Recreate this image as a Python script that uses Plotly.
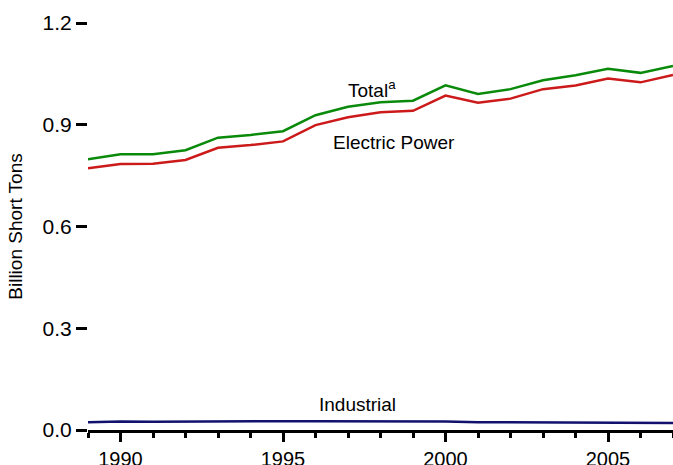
import plotly.graph_objects as go

years = list(range(1989, 2008))
total = [0.798, 0.813, 0.813, 0.825, 0.862, 0.870, 0.881, 0.928, 0.953, 0.966,
         0.971, 1.016, 0.991, 1.005, 1.031, 1.046, 1.065, 1.053, 1.073]
electric = [0.772, 0.784, 0.785, 0.796, 0.832, 0.840, 0.851, 0.899, 0.922, 0.937,
            0.941, 0.986, 0.965, 0.977, 1.005, 1.016, 1.036, 1.025, 1.047]
industrial = [0.023, 0.025, 0.024, 0.025, 0.025, 0.026, 0.026, 0.026, 0.026, 0.025,
              0.025, 0.025, 0.023, 0.023, 0.022, 0.023, 0.023, 0.022, 0.021]

yticks = [0.0, 0.3, 0.6, 0.9, 1.2]
ytick_text = ["0.0", "0.3", "0.6", "0.9", "1.2"]

FONT = "Liberation Sans, Arial, sans-serif"

fig = go.Figure()
fig.add_trace(go.Scatter(x=years, y=industrial, mode="lines",
                         line=dict(color="#12126e", width=2.5), showlegend=False))
fig.add_trace(go.Scatter(x=years, y=electric, mode="lines",
                         line=dict(color="#cc1a1a", width=2.5), showlegend=False))
fig.add_trace(go.Scatter(x=years, y=total, mode="lines",
                         line=dict(color="#0a8a0a", width=2.5), showlegend=False))

fig.add_annotation(x=1997.74, y=1.006, text="Total<sup>a</sup>", showarrow=False,
                   font=dict(family=FONT, size=19, color="black"))
fig.add_annotation(x=1998.43, y=0.847, text="Electric Power", showarrow=False,
                   font=dict(family=FONT, size=19, color="black"))
fig.add_annotation(x=1997.28, y=0.075, text="Industrial", showarrow=False,
                   font=dict(family=FONT, size=19, color="black"))

fig.update_layout(
    width=673, height=465,
    margin=dict(l=88, r=0, t=23, b=35),
    plot_bgcolor="white", paper_bgcolor="white",
    font=dict(family=FONT, size=19, color="black"),
)
fig.update_xaxes(
    range=[1989, 2007], showgrid=False, zeroline=False, automargin=False,
    showline=True, linecolor="black", linewidth=2.5,
    tick0=1990, dtick=5, ticks="outside", ticklen=9, tickwidth=2.5, tickcolor="black",
    minor=dict(dtick=1, tick0=1989, ticks="outside", ticklen=5, tickwidth=2.5, tickcolor="black"),
    tickfont=dict(family=FONT, size=20),
    ticklabelstandoff=0,
)
fig.update_yaxes(
    range=[0, 1.2], showgrid=False, zeroline=False, showline=False, automargin=False,
    tickvals=yticks, ticktext=ytick_text,
    ticks="outside", ticklen=11, tickwidth=2.5, tickcolor="black",
    tickfont=dict(family=FONT, size=21),
    title=dict(text="Billion Short Tons", font=dict(family=FONT, size=19), standoff=14),
)

fig.write_html("out.html",
               config={"displayModeBar": False},
               post_script="document.body.style.margin='0';document.body.style.overflow='hidden';")
